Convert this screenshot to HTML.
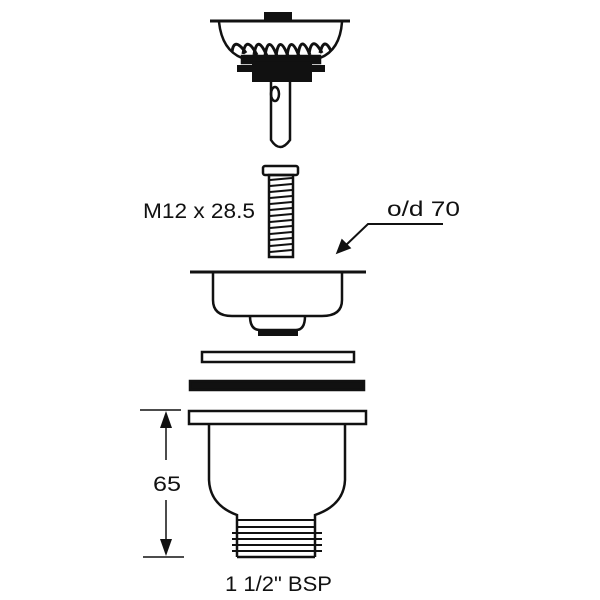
<!DOCTYPE html>
<html><head><meta charset="utf-8"><style>
html,body{margin:0;padding:0;background:#fff}
svg{display:block}
text{font-family:"Liberation Sans",Arial,sans-serif;fill:#111}
</style></head><body>
<svg width="600" height="600" viewBox="0 0 600 600" xmlns="http://www.w3.org/2000/svg" stroke="#111" fill="none" stroke-width="2.5">
<!-- strainer -->
<rect x="264" y="12" width="28" height="9" fill="#111" stroke="none"/>
<line x1="210" y1="21" x2="350" y2="21" stroke-width="3"/>
<path d="M219 22 Q222 50 242 58 L320 58 Q340 50 342 22"/>
<g stroke-width="3">
<path d="M232 52 Q234 36 246 53"/>
<path d="M243 54 Q246 34 257 55"/>
<path d="M254 55 Q257 33 267 56"/>
<path d="M265 56 Q268 33 277 56"/>
<path d="M276 56 Q279 33 288 56"/>
<path d="M287 56 Q290 33 299 56"/>
<path d="M298 55 Q301 33 310 55"/>
<path d="M309 54 Q312 34 322 53"/>
<path d="M320 53 Q324 36 331 51"/>
</g>
<path d="M242 56 L320 56 L320 63 L242 63 Z" fill="#111"/>
<rect x="237" y="65" width="88" height="7" fill="#111" stroke="none"/>
<rect x="252" y="62" width="60" height="20" fill="#111" stroke="none"/>
<path d="M271 82 L271 140 Q280 154 290 140 L290 82"/>
<ellipse cx="275" cy="94" rx="4" ry="7"/>
<!-- bolt -->
<rect x="263" y="166" width="35" height="9" rx="2"/>
<rect x="269" y="175" width="24" height="82"/>
<g stroke-width="2">
<path d="M270 180 L292 178 M270 186 L292 184 M270 192 L292 190 M270 198 L292 196 M270 204 L292 202 M270 210 L292 208 M270 216 L292 214 M270 222 L292 220 M270 228 L292 226 M270 234 L292 232 M270 240 L292 238 M270 246 L292 244 M270 252 L292 250"/>
</g>
<text x="143" y="218" font-size="21" stroke="none" textLength="112" lengthAdjust="spacingAndGlyphs">M12 x 28.5</text>
<text x="387" y="216" font-size="21" stroke="none" textLength="73" lengthAdjust="spacingAndGlyphs">o/d 70</text>
<path d="M443 224 L368 224 L345 246" stroke-width="2"/>
<path d="M337 253 L342 240 L350 248 Z" fill="#111" stroke-width="1.5"/>
<!-- sink flange -->
<line x1="190" y1="272" x2="366" y2="272" stroke-width="3"/>
<path d="M213 273 L213 300 Q213 316 232 316 L322 316 Q342 316 342 300 L342 273"/>
<path d="M250 316 Q250 330 260 330 L296 330 Q305 330 305 316"/>
<rect x="258" y="329" width="40" height="7" fill="#111" stroke="none"/>
<!-- washers -->
<rect x="202" y="352" width="152" height="10"/>
<rect x="190" y="381" width="174" height="9" fill="#111"/>
<!-- body -->
<rect x="189" y="411" width="177" height="13"/>
<path d="M209 424 L209 480 Q210 505 237 515 L237 557 M345 424 L345 480 Q344 505 315 515 L315 557"/>
<line x1="237" y1="557" x2="315" y2="557"/>
<g stroke-width="2">
<path d="M238 520 L314 520 M238 527 L314 527 M232 533 L322 533 M232 539 L322 539 M232 545 L322 545 M232 551 L322 551"/>
</g>
<!-- dimension -->
<g stroke-width="1.5">
<line x1="140" y1="410" x2="181" y2="410"/>
<line x1="143" y1="557" x2="184" y2="557"/>
<line x1="166" y1="418" x2="166" y2="460"/>
<line x1="166" y1="500" x2="166" y2="548"/>
</g>
<path d="M166 411 L160 428 L172 428 Z" fill="#111" stroke="none"/>
<path d="M166 556 L160 539 L172 539 Z" fill="#111" stroke="none"/>
<text x="153" y="491" font-size="21" stroke="none" textLength="28" lengthAdjust="spacingAndGlyphs">65</text>
<text x="225" y="591" font-size="21" stroke="none" textLength="107" lengthAdjust="spacingAndGlyphs">1 1/2" BSP</text>
</svg>
</body></html>
